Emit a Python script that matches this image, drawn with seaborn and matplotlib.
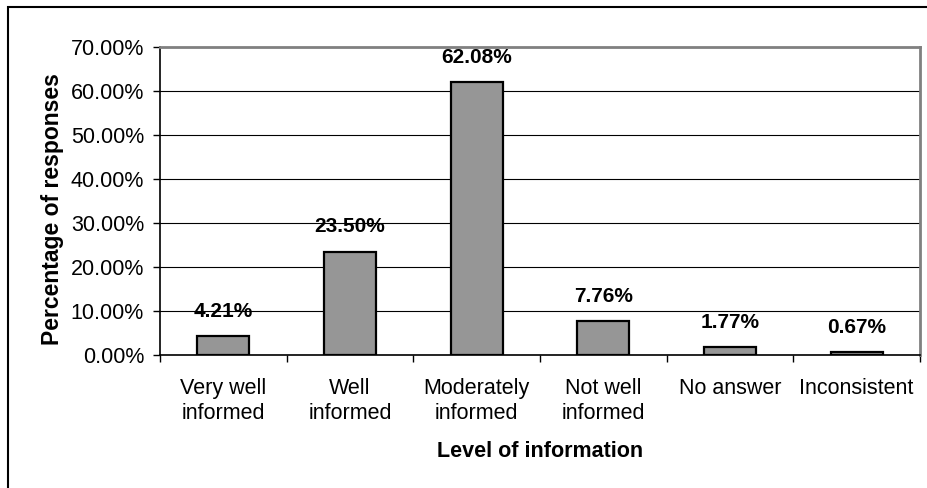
import matplotlib
matplotlib.use("Agg")
import matplotlib.pyplot as plt
import seaborn as sns
import pandas as pd
from matplotlib.ticker import FuncFormatter, MultipleLocator
from matplotlib.patches import Rectangle

categories = ["Very well\ninformed", "Well\ninformed", "Moderately\ninformed",
              "Not well\ninformed", "No answer", "Inconsistent"]
percentages = [4.21, 23.50, 62.08, 7.76, 1.77, 0.67]

df = pd.DataFrame({"level": categories, "pct": percentages})

sns.set_theme(style="white")
plt.rcParams["font.family"] = ["Liberation Sans", "DejaVu Sans"]

fig = plt.figure(figsize=(9.28, 4.88), dpi=100)
ax = fig.add_axes([160 / 928, 1 - 355 / 488, 760 / 928, 308 / 488])

sns.barplot(data=df, x="level", y="pct", ax=ax, color="#969696",
            saturation=1, width=0.41, edgecolor="black", linewidth=1.6, zorder=3)

ax.set_ylim(0, 70)
ax.set_xlim(-0.5, len(categories) - 0.5)
ax.yaxis.set_major_locator(MultipleLocator(10))
ax.yaxis.set_major_formatter(FuncFormatter(lambda v, _: f"{v:.2f}%"))
ax.grid(axis="y", color="black", linewidth=0.8, zorder=0)
ax.set_axisbelow(True)

# category separators as tick marks on the x axis
ax.set_xticks([i + 0.5 for i in range(-1, len(categories))], minor=True)
ax.set_xticks(range(len(categories)))
ax.set_xticklabels(categories, fontsize=15.5, linespacing=1.27)
ax.tick_params(axis="x", which="major", length=0, pad=16.5, colors="black")
ax.tick_params(axis="x", which="minor", length=5, width=1, color="black", direction="out", bottom=True)
ax.tick_params(axis="y", length=5, width=1, color="black", direction="out", left=True,
               labelsize=15.5, pad=6.5, labelcolor="black")

for side in ["top", "right"]:
    ax.spines[side].set_color("#808080")
    ax.spines[side].set_linewidth(2)
for side in ["left", "bottom"]:
    ax.spines[side].set_color("black")
    ax.spines[side].set_linewidth(1.2)

for i, v in enumerate(percentages):
    ax.annotate(f"{v:.2f}%", xy=(i, v), xytext=(0, 11), textcoords="offset points",
                ha="center", va="bottom", fontsize=15, fontweight="bold", color="black")

ax.set_xlabel("Level of information", fontsize=15.5, fontweight="bold", labelpad=12, color="black")
ax.set_ylabel("Percentage of responses", fontsize=16.5, fontweight="bold", labelpad=2, color="black")
ax.yaxis.set_label_coords(-0.126, 0.475)

# chart area frame
fig.patches.append(Rectangle((8 / 928, -0.1), 1.2, 1 - 7 / 488 + 0.1, transform=fig.transFigure,
                             fill=False, edgecolor="black", linewidth=1.5))

fig.savefig("out.png", dpi=100)
